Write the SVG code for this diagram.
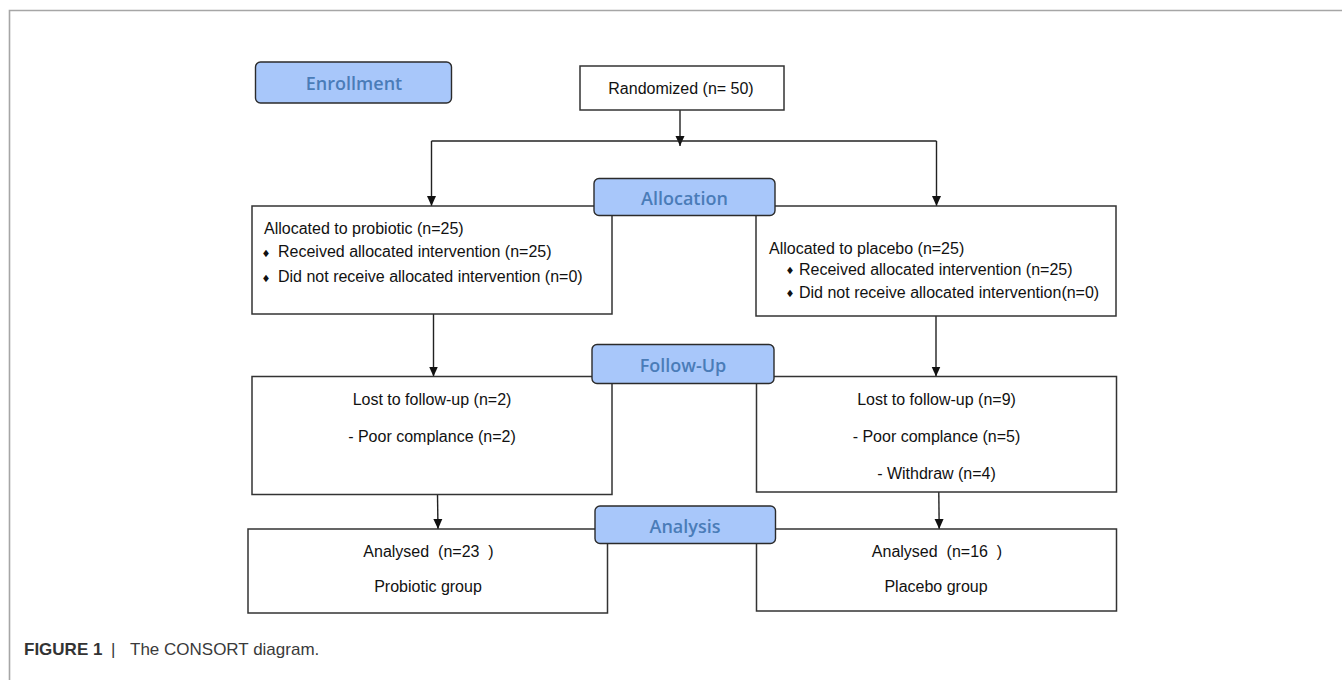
<svg xmlns="http://www.w3.org/2000/svg" width="1342" height="680" viewBox="0 0 1342 680">
<style>
  .box { fill: #ffffff; stroke: #333333; stroke-width: 1.5; }
  .phase { fill: #a8c7fa; stroke: #2b2b2b; stroke-width: 1.4; }
  .ptxt { font-family: "Open Sans", "Liberation Sans", sans-serif; font-weight: 600; font-size: 18px; fill: #4a7cb8; text-anchor: middle; }
  .txt { font-family: "Liberation Sans", Arial, sans-serif; font-size: 16px; fill: #111111; white-space: pre; }
  .mid { text-anchor: middle; }
  .bul { font-family: "DejaVu Sans", sans-serif; font-size: 10px; fill: #111111; text-anchor: middle; }
  .conn { stroke: #222222; stroke-width: 1.4; fill: none; }
  .frame { stroke: #a6a6a6; stroke-width: 1.6; fill: none; }
  .cap { font-family: "Liberation Sans", Arial, sans-serif; font-size: 17px; fill: #3a3a3a; }
</style>
<defs>
  <marker id="arr" markerUnits="userSpaceOnUse" markerWidth="10" markerHeight="10" viewBox="0 0 10 10" refX="10" refY="5" orient="auto">
    <path d="M0,0.5 L10,5 L0,9.5 Z" fill="#111111"/>
  </marker>
</defs>
<rect x="0" y="0" width="1342" height="680" fill="#ffffff"/>
<path class="frame" d="M9.5,680 L9.5,10.5 L1342,10.5"/>

<g id="connectors">
  <line class="conn" x1="680" y1="110" x2="680" y2="146" marker-end="url(#arr)"/>
  <line class="conn" x1="431.5" y1="141" x2="936.5" y2="141"/>
  <line class="conn" x1="431.5" y1="141" x2="431.5" y2="206" marker-end="url(#arr)"/>
  <line class="conn" x1="936.5" y1="141" x2="936.5" y2="206" marker-end="url(#arr)"/>
  <line class="conn" x1="433.5" y1="314" x2="433.5" y2="376.5" marker-end="url(#arr)"/>
  <line class="conn" x1="936" y1="316" x2="936" y2="376.5" marker-end="url(#arr)"/>
  <line class="conn" x1="437.5" y1="494.5" x2="438" y2="529" marker-end="url(#arr)"/>
  <line class="conn" x1="938.8" y1="492" x2="939.2" y2="529" marker-end="url(#arr)"/>
</g>

<g id="randomized">
  <rect class="box" x="580" y="66" width="204" height="44"/>
  <text class="txt mid" x="681" y="94">Randomized (n= 50)</text>
</g>

<g id="alloc-probiotic">
  <rect class="box" x="252" y="206" width="360" height="108"/>
  <text class="txt" x="264" y="234">Allocated to probiotic (n=25)</text>
  <text class="bul" x="266" y="256.5">♦</text>
  <text class="txt" x="278" y="257">Received allocated intervention (n=25)</text>
  <text class="bul" x="266" y="281.5">♦</text>
  <text class="txt" x="278" y="282">Did not receive allocated intervention (n=0)</text>
</g>

<g id="alloc-placebo">
  <rect class="box" x="756" y="206" width="360" height="110"/>
  <text class="txt" x="769" y="254">Allocated to placebo (n=25)</text>
  <text class="bul" x="790" y="274">♦</text>
  <text class="txt" x="799" y="274.5">Received allocated intervention (n=25)</text>
  <text class="bul" x="790" y="297">♦</text>
  <text class="txt" x="799" y="297.5">Did not receive allocated intervention(n=0)</text>
</g>

<g id="followup-probiotic">
  <rect class="box" x="252" y="376.5" width="360" height="118"/>
  <text class="txt mid" x="432" y="405">Lost to follow-up (n=2)</text>
  <text class="txt mid" x="432" y="442">- Poor complance (n=2)</text>
</g>

<g id="followup-placebo">
  <rect class="box" x="756.5" y="376.5" width="360" height="115.5"/>
  <text class="txt mid" x="936.5" y="405">Lost to follow-up (n=9)</text>
  <text class="txt mid" x="936.5" y="442">- Poor complance (n=5)</text>
  <text class="txt mid" x="936.5" y="478.5">- Withdraw (n=4)</text>
</g>

<g id="analysis-probiotic">
  <rect class="box" x="248" y="529" width="359.5" height="84"/>
  <text class="txt mid" x="428.5" y="556.5" xml:space="preserve">Analysed  (n=23  )</text>
  <text class="txt mid" x="428" y="592">Probiotic group</text>
</g>

<g id="analysis-placebo">
  <rect class="box" x="756.5" y="529" width="360" height="82"/>
  <text class="txt mid" x="937" y="556.5" xml:space="preserve">Analysed  (n=16  )</text>
  <text class="txt mid" x="936" y="592">Placebo group</text>
</g>

<g id="phase-enrollment">
  <rect class="phase" x="255.5" y="62" width="196" height="41" rx="5"/>
  <text class="ptxt" x="354" y="89.5">Enrollment</text>
</g>
<g id="phase-allocation">
  <rect class="phase" x="594" y="178.5" width="181" height="37" rx="5"/>
  <text class="ptxt" x="684.5" y="204.5">Allocation</text>
</g>
<g id="phase-followup">
  <rect class="phase" x="592" y="344.5" width="182" height="39" rx="5"/>
  <text class="ptxt" x="683" y="372">Follow-Up</text>
</g>
<g id="phase-analysis">
  <rect class="phase" x="595" y="506" width="180.5" height="37.5" rx="5"/>
  <text class="ptxt" x="685" y="532.5">Analysis</text>
</g>

<g id="caption">
  <text class="cap" x="24" y="654.5"><tspan font-weight="bold" fill="#333333">FIGURE 1</tspan></text>
  <text class="cap" x="111" y="654.5" fill="#777777">|</text>
  <text class="cap" x="130" y="654.5">The CONSORT diagram.</text>
</g>
</svg>
